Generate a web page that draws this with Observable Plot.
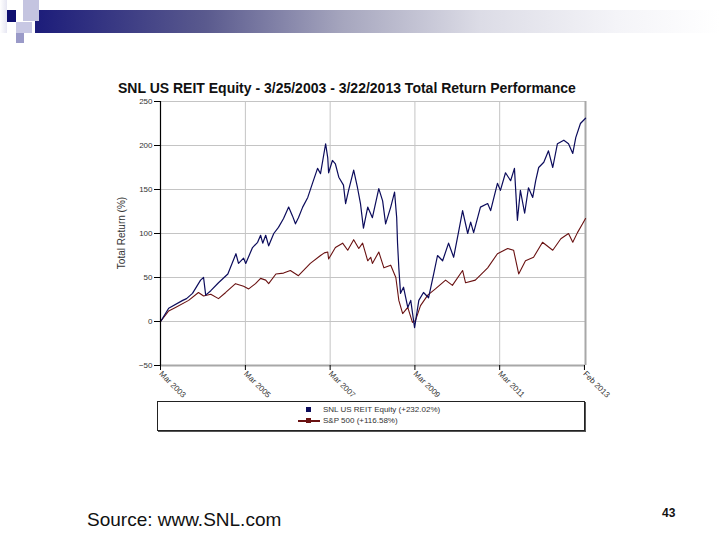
<!DOCTYPE html>
<html><head><meta charset="utf-8">
<script src="https://cdn.jsdelivr.net/npm/d3@7"></script>
<script src="https://cdn.jsdelivr.net/npm/@observablehq/plot@0.6"></script>
<style>
body{margin:0;width:720px;height:540px;position:relative;overflow:hidden;background:#fff;font-family:"Liberation Sans",Arial,sans-serif;}
.abs{position:absolute;}
#bar{left:35px;top:10px;width:685px;height:23px;background:linear-gradient(to right,#1c1c7a 0%,#5a5a8e 25%,#a6a6be 45%,#dcdce6 65%,#f4f4f8 85%,#ffffff 100%);}
#sq1{left:7px;top:10px;width:9px;height:12px;background:#101070;}
#sq2{left:23px;top:0px;width:16px;height:21px;background:#c4c4e0;}
#sq3{left:16px;top:22px;width:16px;height:11px;background:#c8c8e4;}
#sq4{left:16px;top:33px;width:8px;height:10px;background:#9a9ac8;}
#sq5{left:0px;top:0px;width:7px;height:33px;background:linear-gradient(to right,#ffffff,#e6e6f2);}
#title{left:118px;top:84px;font-weight:bold;font-size:14px;line-height:8px;height:8px;color:#111;white-space:nowrap;}
#chart{left:110px;top:95px;}
#ylab{left:121px;top:233px;transform:translate(-50%,-50%) rotate(-90deg);font-size:10px;color:#333;white-space:nowrap;}
#legend{left:157px;top:401px;width:426px;height:28px;border:1px solid #222;box-shadow:1px 1px 0 #555;background:#fff;}
.lrow{position:absolute;left:140px;font-size:8px;color:#333;white-space:nowrap;height:10px;line-height:10px;}
.sw{position:absolute;top:0;width:22px;height:10px;}
.sw .ln{position:absolute;left:0;top:4px;width:22px;height:2px;}
.sw .mk{position:absolute;left:8px;top:2px;width:5px;height:5px;}
.lt{position:absolute;left:25px;top:0;}
#source{left:87px;top:509px;font-size:19px;color:#111;}
#page{left:662px;top:506px;font-size:12px;font-weight:bold;color:#111;}
</style></head><body>
<div id="sq5" class="abs"></div>
<div id="bar" class="abs"></div>
<div id="sq1" class="abs"></div>
<div id="sq2" class="abs"></div>
<div id="sq3" class="abs"></div>
<div id="sq4" class="abs"></div>
<div id="title" class="abs"></div>
<div id="chart" class="abs"></div>
<div id="ylab" class="abs"></div>
<div id="legend" class="abs"></div>
<div id="source" class="abs">Source: www.SNL.com</div>
<div id="page" class="abs">43</div>
<script>
const titleText = "SNL US REIT Equity - 3/25/2003 - 3/22/2013 Total Return Performance";
const yLabel = "Total Return (%)";
const seriesNames = ["SNL US REIT Equity (+232.02%)", "S&P 500 (+116.58%)"];
const seriesColors = ["#0c0c5c", "#6a1212"];

// decimal years and total return (%)
const reitYears = [2003.23,2003.42,2003.75,2003.84,2003.98,2004.17,2004.24,2004.29,2004.41,2004.59,2004.81,2005.00,2005.06,2005.18,2005.23,2005.39,2005.51,2005.58,2005.63,2005.70,2005.77,2005.89,2006.00,2006.12,2006.24,2006.33,2006.40,2006.47,2006.57,2006.69,2006.80,2006.92,2006.99,2007.11,2007.16,2007.18,2007.27,2007.34,2007.42,2007.53,2007.58,2007.65,2007.77,2007.86,2007.93,2008.00,2008.10,2008.21,2008.36,2008.45,2008.52,2008.64,2008.73,2008.78,2008.80,2008.83,2008.87,2008.94,2009.04,2009.11,2009.20,2009.30,2009.41,2009.53,2009.65,2009.74,2009.86,2010.00,2010.12,2010.24,2010.33,2010.45,2010.52,2010.59,2010.75,2010.92,2010.99,2011.15,2011.22,2011.34,2011.46,2011.55,2011.62,2011.69,2011.79,2011.88,2011.98,2012.05,2012.12,2012.24,2012.35,2012.45,2012.56,2012.71,2012.82,2012.92,2012.99,2013.10,2013.22];
const reitValues = [0,15,24,26,32,47,50,30,35,44,54,77,66,72,66,84,90,98,89,98,86,100,107,117,130,120,111,118,130,141,157,174,168,202,186,169,183,179,164,155,134,149,172,152,134,106,130,118,151,137,111,130,147,118,89,61,32,39,16,24,-7,24,33,27,54,75,69,89,73,103,126,100,113,101,130,134,126,157,149,169,160,174,115,149,123,152,141,160,175,181,194,175,202,206,202,191,209,225,231];

const spYears = [2003.23,2003.42,2003.58,2003.89,2004.12,2004.24,2004.41,2004.59,2004.76,2004.99,2005.18,2005.30,2005.46,2005.58,2005.70,2005.77,2005.94,2006.12,2006.28,2006.47,2006.75,2006.99,2007.08,2007.16,2007.18,2007.34,2007.51,2007.63,2007.77,2007.89,2007.98,2008.10,2008.17,2008.21,2008.36,2008.48,2008.64,2008.76,2008.83,2008.92,2009.04,2009.15,2009.22,2009.34,2009.51,2009.69,2009.93,2010.09,2010.33,2010.40,2010.63,2010.92,2011.15,2011.39,2011.53,2011.65,2011.81,2012.00,2012.21,2012.45,2012.64,2012.82,2012.92,2013.03,2013.15,2013.22];
const spValues = [0,12,16,24,33,29,31,26,33,43,40,37,43,49,47,43,54,55,58,52,66,75,78,79,71,84,89,81,93,83,89,69,73,66,79,61,64,50,24,9,16,-1,1,18,30,37,47,41,58,44,47,61,77,83,81,54,69,73,90,81,94,100,90,101,111,117];

const tickDates = ["2003-03-25","2005-03-23","2007-03-21","2009-03-18","2011-03-16","2013-03-13"];
const tickLabels = ["Mar 2003","Mar 2005","Mar 2007","Mar 2009","Mar 2011","Feb 2013"];
const yTicks = [-50,0,50,100,150,200,250];
const xStart = "2003-03-25", xEnd = "2013-03-22";

function yearToDate(y){
  const yr = Math.floor(y);
  const a = Date.UTC(yr,0,1), b = Date.UTC(yr+1,0,1);
  return new Date(a + (y-yr)*(b-a));
}
const reit = reitYears.map((y,i)=>({date:yearToDate(y), value:reitValues[i]}));
const sp = spYears.map((y,i)=>({date:yearToDate(y), value:spValues[i]}));
const ticks = tickDates.map(d=>new Date(d));
const labelMap = new Map(ticks.map((d,i)=>[+d, tickLabels[i]]));
const x0 = new Date(xStart), x1 = new Date(xEnd);

const plot = Plot.plot({
  width: 490, height: 305,
  marginLeft: 50, marginRight: 15, marginTop: 6, marginBottom: 35,
  style: {fontFamily: "'Liberation Sans', Arial, sans-serif", fontSize: "8px", color: "#333", background: "transparent", overflow: "visible"},
  x: {type: "utc", domain: [x0, x1]},
  y: {domain: [-50, 250]},
  marks: [
    Plot.gridY(yTicks.filter(v=>v>-50), {stroke: "#c4c4c4", strokeOpacity: 1}),
    Plot.gridX(ticks.slice(1,-1), {stroke: "#c4c4c4", strokeOpacity: 1}),
    Plot.ruleX([x1], {stroke: "#a8a8a8", strokeWidth: 2}),
    Plot.ruleY([-50], {stroke: "#a8a8a8", strokeWidth: 2}),
    Plot.line(sp, {x: "date", y: "value", stroke: seriesColors[1], strokeWidth: 1.1}),
    Plot.line(reit, {x: "date", y: "value", stroke: seriesColors[0], strokeWidth: 1.2}),
    Plot.ruleX([x0], {stroke: "#000", strokeWidth: 1.2}),
    Plot.axisY({ticks: yTicks, tickSize: 6, tickPadding: 2, label: null, stroke: "#000"}),
    Plot.axisX({ticks: ticks, tickFormat: d => labelMap.get(+d), tickRotate: 45, tickSize: 5, tickPadding: 2, label: null, stroke: "#000"})
  ]
});
document.getElementById("chart").appendChild(plot);
document.getElementById("title").textContent = titleText;
document.getElementById("ylab").textContent = yLabel;

const legend = document.getElementById("legend");
seriesNames.forEach((name, i) => {
  const row = document.createElement("div");
  row.className = "lrow";
  row.style.top = (3 + i*11) + "px";
  const sw = document.createElement("div");
  sw.className = "sw";
  if (i === 1) {
    const ln = document.createElement("div"); ln.className = "ln"; ln.style.background = seriesColors[i]; sw.appendChild(ln);
  }
  const mk = document.createElement("div"); mk.className = "mk"; mk.style.background = seriesColors[i]; sw.appendChild(mk);
  row.appendChild(sw);
  const t = document.createElement("span"); t.className = "lt"; t.textContent = name; row.appendChild(t);
  legend.appendChild(row);
});
</script>
</body></html>
